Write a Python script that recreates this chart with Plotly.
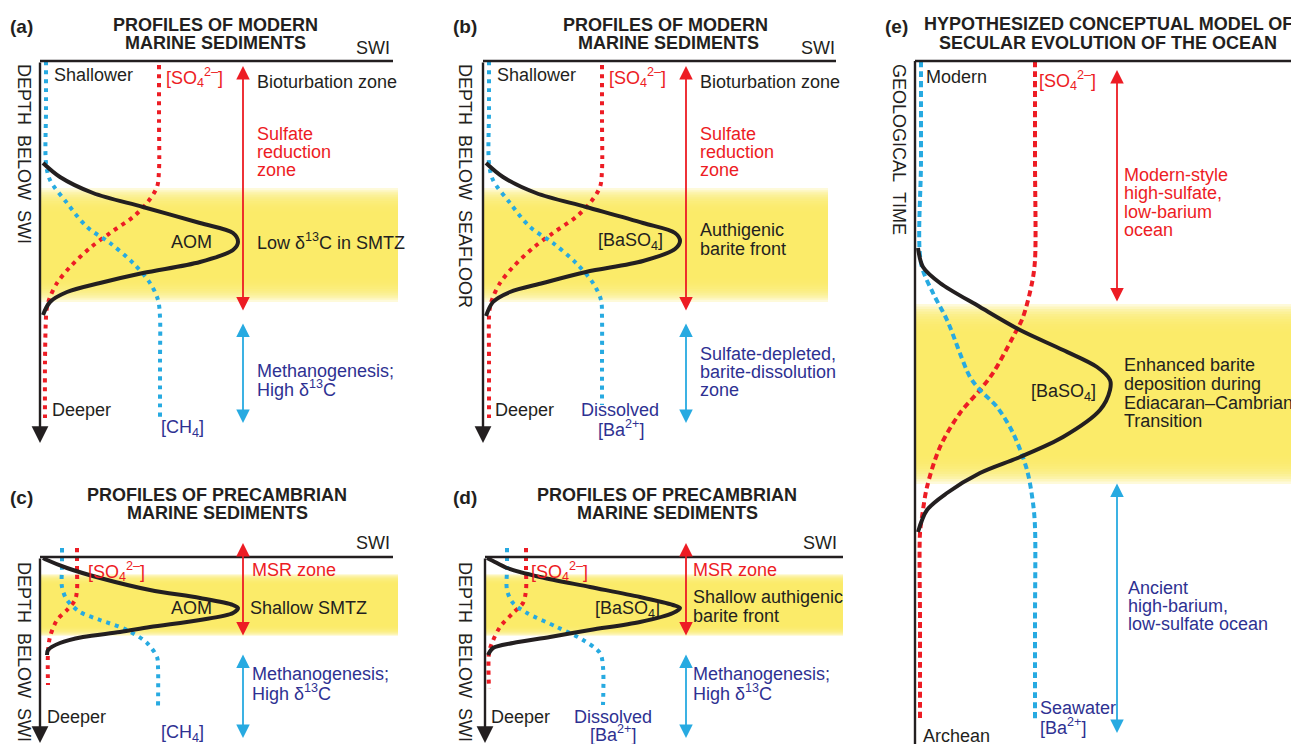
import plotly.graph_objects as go

# ------------------------------------------------------------------
# DATA  (conceptual profiles: concentration vs depth, arbitrary units;
#        depth measured downward from the SWI / top of each panel)
# ------------------------------------------------------------------
# (a) modern sediments: AOM peak, sulfate, methane
a_peak_depth = [102, 116, 132, 146, 162, 172, 181, 189, 201, 212, 222, 231, 241, 254]
a_peak_value = [3, 20, 53, 103, 160, 193, 198, 193, 160, 103, 60, 27, 10, 3]
a_so4_depth = [4, 60, 109, 126, 142, 156, 172, 187, 206, 222, 236, 246, 256, 300, 357]
a_so4_value = [119, 119, 119, 117, 107, 93, 70, 50, 30, 17, 10, 7, 6, 5, 5]
a_ch4_depth = [0, 50, 102, 119, 142, 166, 182, 202, 222, 239, 256, 300, 357]
a_ch4_value = [6, 6, 6, 10, 27, 47, 70, 93, 110, 118, 120, 120, 120]

# (b) modern sediments: authigenic barite front, sulfate, dissolved Ba
b_peak_depth = [102, 116, 132, 146, 162, 172, 180, 188, 200, 211, 222, 231, 241, 255]
b_peak_value = [3, 20, 53, 103, 160, 192, 197, 192, 160, 103, 60, 27, 10, 3]
b_so4_depth = [4, 60, 109, 126, 142, 156, 172, 187, 206, 222, 236, 246, 256, 300, 357]
b_so4_value = [119, 119, 119, 117, 107, 93, 70, 50, 30, 17, 10, 7, 6, 6, 6]
b_ba_depth = [0, 50, 102, 119, 142, 166, 182, 202, 222, 239, 256, 300, 344]
b_ba_value = [6, 6, 6, 10, 27, 47, 70, 93, 110, 118, 119, 119, 119]

# (c) Precambrian sediments: shallow AOM, sulfate, methane
c_peak_depth = [1, 3, 11, 21, 33, 41, 48, 51, 56, 63, 70, 75, 80, 86, 93, 98]
c_peak_value = [3, 7, 27, 60, 110, 160, 193, 198, 193, 160, 110, 80, 43, 20, 8, 7]
c_so4_depth = [-9, 12, 33, 43, 53, 63, 80, 96, 128]
c_so4_value = [37, 37, 37, 35, 27, 17, 10, 8, 8]
c_ch4_depth = [-9, 10, 30, 43, 55, 63, 73, 86, 100, 110, 150]
c_ch4_value = [22, 22, 22, 27, 40, 60, 87, 107, 117, 118, 118]

# (d) Precambrian sediments: shallow barite front, sulfate, dissolved Ba
d_peak_depth = [1, 4, 11, 20, 30, 40, 48, 51, 56, 65, 73, 80, 86, 91, 98]
d_peak_value = [2, 8, 22, 55, 105, 155, 188, 195, 188, 155, 105, 65, 28, 8, 3]
d_so4_depth = [-9, 12, 33, 46, 56, 70, 86, 96, 132]
d_so4_value = [41, 41, 41, 38, 28, 15, 7, 4, 4]
d_ba_depth = [-9, 12, 33, 46, 56, 70, 83, 96, 110, 148]
d_ba_value = [22, 22, 22, 28, 42, 72, 98, 115, 118, 118]

# (e) secular evolution of the ocean (geological time downward)
e_peak_depth = [187, 206, 222, 246, 269, 289, 306, 319, 329, 349, 376, 396, 412, 432, 449, 471]
e_peak_value = [3, 8, 25, 65, 105, 148, 182, 195, 195, 185, 148, 105, 65, 32, 12, 3]
e_so4_depth = [0, 100, 199, 222, 256, 276, 312, 329, 352, 386, 426, 456, 472, 560, 659]
e_so4_value = [120, 120, 120, 117, 108, 98, 78, 65, 45, 25, 12, 7, 5, 5, 5]
e_ba_depth = [0, 100, 202, 232, 259, 316, 329, 346, 372, 409, 442, 466, 560, 659]
e_ba_value = [6, 6, 6, 18, 32, 55, 65, 82, 98, 112, 118, 120, 120, 120]

# ------------------------------------------------------------------
# LAYOUT / STYLE
# ------------------------------------------------------------------
W, H = 1291, 744
FONT = "Liberation Sans, Arial, Helvetica, sans-serif"
BLACK = "#231f20"
RED = "#ed1c24"
LBLUE = "#27aae1"
DBLUE = "#2e3192"
YELLOW = "rgb(251,236,100)"


def X(px):
    return px / W


def Y(py):
    return 1 - py / H


# pixel frame of each panel: origin (axis x, SWI y), right edge, top/bottom of plotting area
panels = {
    "a": dict(ox=40, oy=61, right=400, top=51, bottom=446),
    "b": dict(ox=483, oy=61, right=840, top=51, bottom=446),
    "c": dict(ox=40, oy=557, right=400, top=538, bottom=744),
    "d": dict(ox=485, oy=557, right=845, top=538, bottom=744),
    "e": dict(ox=915, oy=61, right=1291, top=51, bottom=744),
}

fig = go.Figure()
layout_axes = {}
for i, (key, p) in enumerate(panels.items(), start=1):
    xa = "xaxis" if i == 1 else f"xaxis{i}"
    ya = "yaxis" if i == 1 else f"yaxis{i}"
    layout_axes[xa] = dict(domain=[X(p["ox"] - 10), X(p["right"])],
                           range=[-10, p["right"] - p["ox"]],
                           anchor="y" if i == 1 else f"y{i}", visible=False,
                           showgrid=False, zeroline=False, fixedrange=True)
    layout_axes[ya] = dict(domain=[Y(p["bottom"]), Y(p["top"])],
                           range=[p["bottom"] - p["oy"], p["top"] - p["oy"]],
                           anchor="x" if i == 1 else f"x{i}", visible=False,
                           showgrid=False, zeroline=False, fixedrange=True)
    p["xref"] = "x" if i == 1 else f"x{i}"
    p["yref"] = "y" if i == 1 else f"y{i}"

series = {
    "a": [(a_so4_value, a_so4_depth, RED, "dot"), (a_ch4_value, a_ch4_depth, LBLUE, "dot"),
          (a_peak_value, a_peak_depth, BLACK, "solid")],
    "b": [(b_so4_value, b_so4_depth, RED, "dot"), (b_ba_value, b_ba_depth, LBLUE, "dot"),
          (b_peak_value, b_peak_depth, BLACK, "solid")],
    "c": [(c_so4_value, c_so4_depth, RED, "dot"), (c_ch4_value, c_ch4_depth, LBLUE, "dot"),
          (c_peak_value, c_peak_depth, BLACK, "solid")],
    "d": [(d_so4_value, d_so4_depth, RED, "dot"), (d_ba_value, d_ba_depth, LBLUE, "dot"),
          (d_peak_value, d_peak_depth, BLACK, "solid")],
    "e": [(e_so4_value, e_so4_depth, RED, "dash"), (e_ba_value, e_ba_depth, LBLUE, "dash"),
          (e_peak_value, e_peak_depth, BLACK, "solid")],
}

for key, lst in series.items():
    p = panels[key]
    for xs, ys, col, style in lst:
        if style == "solid":
            line = dict(color=col, width=4, shape="spline", smoothing=0.9)
        elif style == "dot":
            line = dict(color=col, width=4, dash="4px,5px", shape="spline", smoothing=0.9)
        else:
            line = dict(color=col, width=4, dash="6px,4px", shape="spline", smoothing=0.9)
        fig.add_trace(go.Scatter(x=xs, y=ys, mode="lines", line=line,
                                 xaxis=p["xref"], yaxis=p["yref"],
                                 hoverinfo="skip", showlegend=False))

shapes = []
# yellow SMTZ / barite bands with feathered upper & lower edges
bands = [  # x0, x1, y0, y1, fade (px)
    (40, 398, 188, 302, 26),
    (483, 828, 188, 302, 26),
    (40, 398, 574, 636, 11),
    (485, 843, 574, 636, 11),
    (915, 1291, 304, 484, 30),
]
NL = 12
for x0, x1, y0, y1, fade in bands:
    for k in range(NL):
        d = fade * k / NL
        shapes.append(dict(type="rect", xref="paper", yref="paper", layer="below",
                           x0=X(x0), x1=X(x1), y0=Y(y1 - d), y1=Y(y0 + d),
                           fillcolor=YELLOW, opacity=0.24, line=dict(width=0)))

# SWI / top lines
for x0, x1, yy in [(40, 393, 61), (483, 836, 61), (40, 393, 557), (485, 843, 557), (915, 1291, 61)]:
    shapes.append(dict(type="line", xref="paper", yref="paper", x0=X(x0), x1=X(x1),
                       y0=Y(yy), y1=Y(yy), line=dict(color=BLACK, width=2.4)))
# panel (e) vertical axis (no arrowhead)
shapes.append(dict(type="line", xref="paper", yref="paper", x0=X(915), x1=X(915),
                   y0=Y(61), y1=Y(746), line=dict(color=BLACK, width=2.4)))

ann = []


def txt(s, x, y, color=BLACK, size=18, anchor="left", bold=False, angle=0):
    if bold:
        s = f"<b>{s}</b>"
    ann.append(dict(text=s, x=X(x), y=Y(y), xref="paper", yref="paper",
                    xanchor=anchor, yanchor="middle", showarrow=False, borderpad=0,
                    textangle=angle, font=dict(family=FONT, size=size, color=color)))


def arrow(x, y_tip, y_tail, color, width=1.8, size=1.5, both=True):
    ann.append(dict(text="", x=X(x), y=Y(y_tip), xref="paper", yref="paper",
                    ax=0, ay=y_tail - y_tip, axref="pixel", ayref="pixel",
                    showarrow=True, arrowhead=2, arrowsize=size, arrowwidth=width,
                    arrowcolor=color, arrowside="end+start" if both else "end",
                    startarrowhead=2, startarrowsize=size, standoff=0, startstandoff=0))


# depth axes with arrowheads
arrow(40, 443, 61, BLACK, width=2.4, size=1.4, both=False)
arrow(483, 443, 61, BLACK, width=2.4, size=1.4, both=False)
arrow(40, 748, 557, BLACK, width=2.4, size=1.4, both=False)
arrow(485, 748, 557, BLACK, width=2.4, size=1.4, both=False)

# zone arrows
arrow(243, 66, 312, RED)
arrow(243, 423, 322, LBLUE)
arrow(686, 66, 312, RED)
arrow(686, 423, 322, LBLUE)
arrow(243, 543, 637, RED)
arrow(243, 738, 653, LBLUE)
arrow(686, 543, 637, RED)
arrow(686, 738, 653, LBLUE)
arrow(1117, 70, 303, RED)
arrow(1117, 733, 482, LBLUE)

SO4 = "[SO<sub>4</sub><sup>2\u2013</sup>]"
BASO4 = "[BaSO<sub>4</sub>]"
BA = "[Ba<sup>2+</sup>]"
CH4 = "[CH<sub>4</sub>]"
D13 = "\u03b4<sup>13</sup>C"
NB = "\u00a0\u00a0"

# ---- panel (a)
txt("(a)", 9, 27, size=19, bold=True)
txt("PROFILES OF MODERN", 215, 25, bold=True, anchor="center")
txt("MARINE SEDIMENTS", 215, 43, bold=True, anchor="center")
txt("SWI", 373, 48, anchor="center")
txt("Shallower", 53, 75)
txt(SO4, 165, 77, color=RED)
txt("Bioturbation zone", 256, 82)
txt("Sulfate", 256, 134, color=RED)
txt("reduction", 256, 152, color=RED)
txt("zone", 256, 170, color=RED)
txt("AOM", 192, 242, anchor="center")
txt(f"Low {D13} in SMTZ", 256, 241)
txt("Methanogenesis;", 256, 371, color=DBLUE)
txt(f"High {D13}", 256, 388, color=DBLUE)
txt("Deeper", 51, 410)
txt(CH4, 160, 428, color=DBLUE)
txt(f"DEPTH{NB}BELOW{NB}SWI", 24, 154, anchor="center", angle=90)

# ---- panel (b)
txt("(b)", 452, 27, size=19, bold=True)
txt("PROFILES OF MODERN", 666, 25, bold=True, anchor="center")
txt("MARINE SEDIMENTS", 668, 43, bold=True, anchor="center")
txt("SWI", 818, 48, anchor="center")
txt("Shallower", 496, 75)
txt(SO4, 608, 77, color=RED)
txt("Bioturbation zone", 699, 82)
txt("Sulfate", 699, 134, color=RED)
txt("reduction", 699, 152, color=RED)
txt("zone", 699, 170, color=RED)
txt(BASO4, 630, 241, anchor="center")
txt("Authigenic", 699, 230)
txt("barite front", 699, 249)
txt("Sulfate-depleted,", 699, 354, color=DBLUE)
txt("barite-dissolution", 699, 372, color=DBLUE)
txt("zone", 699, 390, color=DBLUE)
txt("Deeper", 494, 410)
txt("Dissolved", 620, 410, color=DBLUE, anchor="center")
txt(BA, 621, 428, color=DBLUE, anchor="center")
txt(f"DEPTH{NB}BELOW{NB}SEAFLOOR", 465, 186, anchor="center", angle=90)

# ---- panel (c)
txt("(c)", 9, 497, size=19, bold=True)
txt("PROFILES OF PRECAMBRIAN", 217, 495, bold=True, anchor="center")
txt("MARINE SEDIMENTS", 217, 513, bold=True, anchor="center")
txt("SWI", 373, 543, anchor="center")
txt(SO4, 87, 571, color=RED)
txt("MSR zone", 251, 570, color=RED)
txt("AOM", 192, 608, anchor="center")
txt("Shallow SMTZ", 249, 608)
txt("Methanogenesis;", 251, 674, color=DBLUE)
txt(f"High {D13}", 251, 692, color=DBLUE)
txt("Deeper", 46, 717)
txt(CH4, 160, 733, color=DBLUE)
txt(f"DEPTH{NB}BELOW{NB}SWI", 24, 652, anchor="center", angle=90)

# ---- panel (d)
txt("(d)", 452, 497, size=19, bold=True)
txt("PROFILES OF PRECAMBRIAN", 667, 495, bold=True, anchor="center")
txt("MARINE SEDIMENTS", 667, 513, bold=True, anchor="center")
txt("SWI", 820, 543, anchor="center")
txt(SO4, 530, 571, color=RED)
txt("MSR zone", 692, 570, color=RED)
txt(BASO4, 627, 609, anchor="center")
txt("Shallow authigenic", 692, 597)
txt("barite front", 692, 616)
txt("Methanogenesis;", 692, 674, color=DBLUE)
txt(f"High {D13}", 692, 692, color=DBLUE)
txt("Deeper", 490, 717)
txt("Dissolved", 613, 717, color=DBLUE, anchor="center")
txt(BA, 613, 733, color=DBLUE, anchor="center")
txt(f"DEPTH{NB}BELOW{NB}SWI", 465, 652, anchor="center", angle=90)

# ---- panel (e)
txt("(e)", 884, 27, size=19, bold=True)
txt("HYPOTHESIZED CONCEPTUAL MODEL OF", 1108, 24, bold=True, anchor="center")
txt("SECULAR EVOLUTION OF THE OCEAN", 1108, 43, bold=True, anchor="center")
txt("Modern", 925, 77)
txt(SO4, 1038, 80, color=RED)
txt("Modern-style", 1123, 175, color=RED)
txt("high-sulfate,", 1123, 193, color=RED)
txt("low-barium", 1123, 212, color=RED)
txt("ocean", 1123, 230, color=RED)
txt("Enhanced barite", 1123, 365)
txt("deposition during", 1123, 384)
txt("Ediacaran\u2013Cambrian", 1123, 403)
txt("Transition", 1123, 421)
txt(BASO4, 1063, 392, anchor="center")
txt("Ancient", 1127, 588, color=DBLUE)
txt("high-barium,", 1127, 606, color=DBLUE)
txt("low-sulfate ocean", 1127, 624, color=DBLUE)
txt("Seawater", 1039, 708, color=DBLUE)
txt(BA, 1039, 726, color=DBLUE)
txt("Archean", 922, 736)
txt(f"GEOLOGICAL{NB}TIME", 899, 149, anchor="center", angle=90)

fig.update_layout(
    width=W, height=H, margin=dict(l=0, r=0, t=0, b=0),
    paper_bgcolor="white", plot_bgcolor="rgba(0,0,0,0)",
    shapes=shapes, annotations=ann, showlegend=False,
    font=dict(family=FONT, color=BLACK),
    **layout_axes,
)

fig.write_html(
    "out.html",
    config={"displayModeBar": False},
    post_script="document.body.style.margin='0';document.body.style.padding='0';"
                "document.documentElement.style.overflow='hidden';",
)
